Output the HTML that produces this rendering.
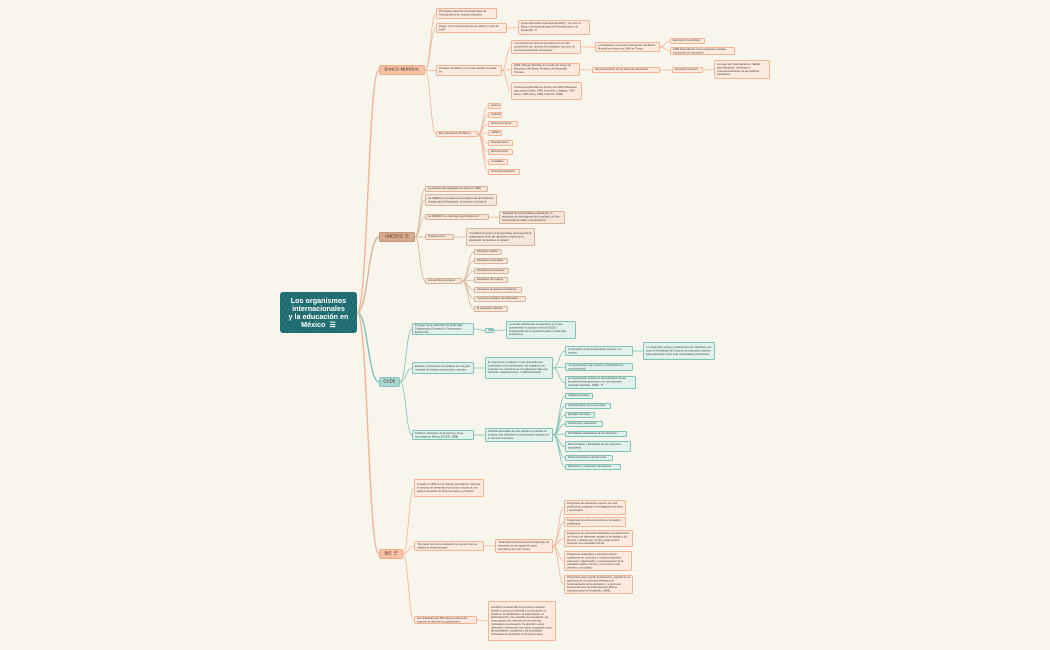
<!DOCTYPE html>
<html><head><meta charset="utf-8">
<style>
html,body{margin:0;padding:0}
body{width:1050px;height:650px;background:#f8f6ec;position:relative;overflow:hidden;font-family:"Liberation Sans",sans-serif}
svg{position:absolute;left:0;top:0}
.n{position:absolute;box-sizing:border-box;color:#4a3a30;padding:0 2px;border-radius:1.5px;overflow:hidden;display:flex;align-items:center}
.n>span{display:block;font-size:6.4px;line-height:8px;transform:scale(.42);transform-origin:left top;flex:none}
.m>span{font-size:10px;line-height:12px;text-align:center;white-space:nowrap}
.s{background:#fbeadd;border:0.8px solid #f5b396}
.t{background:#f4e6d8;border:0.8px solid #d8b49a}
.g{background:#e2f1ec;border:0.8px solid #7cc3b9;color:#2f4a46}
.m{justify-content:center;border-radius:2px;color:#3a2a20}
#root{background:#1d6b70 repeating-linear-gradient(120deg,rgba(255,255,255,.08) 0 1px,transparent 1px 4px);color:#fff;font-size:7.2px;line-height:8px;font-weight:bold;text-align:center;justify-content:center;border-radius:3px;border:none}
</style></head><body>
<svg id="sv" width="1050" height="650"></svg>

<div id="root" style="position:absolute;display:flex;align-items:center;left:280px;top:292px;width:77px;height:41px">Los organismos<br>internacionales<br>y la educación en<br>México &nbsp;☰</div>

<div class="n m" id="bm" style="left:379px;top:65px;width:46px;height:10px;background:#f9c2a6;border:0.8px solid #f3a888">BANCO MUNDIAL</div>
<div class="n m" id="un" style="left:379px;top:232px;width:36px;height:10px;background:#d7ab8f;border:0.8px solid #c5957a">UNESCO &nbsp;☰</div>
<div class="n m" id="oc" style="left:379px;top:377px;width:21px;height:10px;background:#a9d8d0;border:0.8px solid #86c5bb">OCDE</div>
<div class="n m" id="bi" style="left:379px;top:549px;width:24px;height:10px;background:#f9c2a6;border:0.8px solid #f3a888">BID &nbsp;☰</div>

<div class="n s" id="b1" style="left:436px;top:8px;width:61px;height:11px">Principales agencias internacionales de financiamiento en materia educativa.</div>
<div class="n s" id="b2" style="left:436px;top:23px;width:71px;height:10px">Origen en la conferencia que se realizó en julio de 1944</div>
<div class="n s" id="b21" style="left:518px;top:20px;width:72px;height:15px">Fondo Monetario Internacional (FMI) y, por otro, el Banco Internacional para la Reconstrucción y el Desarrollo &nbsp;☰</div>
<div class="n s" id="b3" style="left:436px;top:65px;width:66px;height:11px">El interés del Banco por temas sociales se basa en:</div>
<div class="n s" id="b31" style="left:511px;top:40px;width:70px;height:14px">“La inversión en favor de los pobres no es sólo conveniente por razones humanitarias, sino que es una buena inversión económica”</div>
<div class="n s" id="b311" style="left:595px;top:42px;width:65px;height:10px">La educación, la primera intervención del Banco Mundial se efectuó en 1964 en Túnez.</div>
<div class="n s" id="b3111" style="left:670px;top:38px;width:35px;height:6px">Educación Secundaria</div>
<div class="n s" id="b3112" style="left:670px;top:47px;width:65px;height:8px">1968 dependiendo a los programas sociales, incluyendo los educativos</div>
<div class="n s" id="b32" style="left:511px;top:63px;width:69px;height:13px">1996 el Banco Mundial, por medio del Grupo de Educación del Depto Temático de Desarrollo Humano</div>
<div class="n s" id="b321" style="left:592px;top:67px;width:68px;height:6px">Reestructuración de los sistemas educativos</div>
<div class="n s" id="b3211" style="left:672px;top:67px;width:31px;height:6px">Educación superior</div>
<div class="n s" id="b32111" style="left:714px;top:60px;width:56px;height:19px">Los ejes son financiamiento, calidad, administración, resultados e internacionalización de las políticas educativas.</div>
<div class="n s" id="b33" style="left:511px;top:82px;width:71px;height:18px">Conferencia Mundial de Jomtien de 1990; Educación para todos (Dakar, 1996; Hamshel y Lhaspar, 1997; Essex, 1996; Brey, 1996; Patrinos, 1998)</div>
<div class="n s" id="b4" style="left:436px;top:131px;width:42px;height:6px">Ejes articulados del Banco</div>
<div class="n s" id="e1" style="left:488px;top:103px;width:13px;height:6px">acceso</div>
<div class="n s" id="e2" style="left:488px;top:112px;width:14px;height:6px">equidad</div>
<div class="n s" id="e3" style="left:488px;top:121px;width:30px;height:6px">eficiencia interna</div>
<div class="n s" id="e4" style="left:488px;top:130px;width:14px;height:6px">calidad</div>
<div class="n s" id="e5" style="left:488px;top:140px;width:25px;height:6px">financiamiento</div>
<div class="n s" id="e6" style="left:488px;top:149px;width:25px;height:6px">administración</div>
<div class="n s" id="e7" style="left:488px;top:159px;width:20px;height:6px">resultados</div>
<div class="n s" id="e8" style="left:488px;top:169px;width:32px;height:6px">internacionalización</div>

<div class="n t" id="u1" style="left:425px;top:186px;width:63px;height:6px">La creación del organismo se ubica en 1945</div>
<div class="n t" id="u2" style="left:425px;top:194px;width:72px;height:12px">La UNESCO se funda como el órgano de las Naciones Unidas para la Educación, la Ciencia y la Cultura</div>
<div class="n t" id="u3" style="left:425px;top:214px;width:64px;height:6px">La UNESCO se crea bajo los principios de:</div>
<div class="n t" id="u31" style="left:499px;top:211px;width:66px;height:13px">“Igualdad de oportunidades educativas; no restricción en la búsqueda de la verdad y el libre intercambio de ideas y conocimiento”</div>
<div class="n t" id="u4" style="left:425px;top:234px;width:29px;height:6px">Impulsa como:</div>
<div class="n t" id="u41" style="left:466px;top:228px;width:69px;height:18px">“Contribuir a la paz y a la seguridad, promoviendo la colaboración entre las naciones a través de la educación, la ciencia o la cultura”</div>
<div class="n t" id="u5" style="left:425px;top:278px;width:37px;height:6px">Los ámbitos de interés</div>
<div class="n t" id="a1" style="left:474px;top:249px;width:28px;height:6px">educación básica</div>
<div class="n t" id="a2" style="left:474px;top:258px;width:34px;height:6px">educación secundaria</div>
<div class="n t" id="a3" style="left:474px;top:268px;width:35px;height:6px">educación permanente</div>
<div class="n t" id="a4" style="left:474px;top:277px;width:34px;height:6px">educación de mujeres</div>
<div class="n t" id="a5" style="left:474px;top:287px;width:48px;height:6px">educación de grupos minoritarios</div>
<div class="n t" id="a6" style="left:474px;top:296px;width:52px;height:6px">nuevas tecnologías de información</div>
<div class="n t" id="a7" style="left:474px;top:306px;width:34px;height:6px">la educación superior</div>

<div class="n g" id="o1" style="left:412px;top:323px;width:62px;height:12px">El origen de la institución fue la llamada Organización Europea de Cooperación Económica</div>
<div class="n g" id="o11" style="left:485px;top:328px;width:9px;height:5px">1961</div>
<div class="n g" id="o111" style="left:506px;top:321px;width:70px;height:18px">se decide transformar el organismo en lo que actualmente se conoce como la OCDE ( Organización de Cooperación para el desarrollo económico)</div>
<div class="n g" id="o2" style="left:412px;top:362px;width:62px;height:12px">Estudio y formulación de políticas en una gran variedad de esferas económicas y sociales.</div>
<div class="n g" id="o21" style="left:485px;top:357px;width:68px;height:22px">El mecanismo mediante el cual desarrolla sus actividades es la combinación del trabajo de los expertos con miembros de los gobiernos bajo una dirección, aparentemente, "multidisciplinaria"</div>
<div class="n g" id="o211" style="left:565px;top:346px;width:68px;height:10px">La transición entre la educación superior y el empleo.</div>
<div class="n g" id="o2111" style="left:643px;top:342px;width:72px;height:18px">La integración social y productiva de los individuos, así como la flexibilidad del conjunto de educación superior para adecuarse mejor a las necesidades productivas.</div>
<div class="n g" id="o212" style="left:565px;top:363px;width:68px;height:8px">“el conocimiento real, efectivo y cuantitativo de conocimientos”.</div>
<div class="n g" id="o213" style="left:565px;top:376px;width:71px;height:13px">La organización propone la diversificación de las fuentes de financiamiento en el nivel terciario (Ocampo Sánchez, 1998). &nbsp;☰</div>
<div class="n g" id="o3" style="left:412px;top:430px;width:62px;height:10px">Políticas nacionales de la ciencia y de la tecnología en México (OCDE, 1998)</div>
<div class="n g" id="o31" style="left:485px;top:428px;width:68px;height:14px">Políticas derivadas de este estudio con tendes un impacto muy relevante en la educación superior en el contexto mexicano</div>
<div class="n g" id="p1" style="left:565px;top:393px;width:28px;height:6px">Calidad educativa</div>
<div class="n g" id="p2" style="left:565px;top:403px;width:46px;height:6px">Financiamiento de la educación</div>
<div class="n g" id="p3" style="left:565px;top:412px;width:30px;height:6px">Equidad educativa</div>
<div class="n g" id="p4" style="left:565px;top:421px;width:38px;height:6px">Pertinencia y educación</div>
<div class="n g" id="p5" style="left:565px;top:431px;width:62px;height:6px">Prioridades cuantitativas de la educación</div>
<div class="n g" id="p6" style="left:565px;top:441px;width:66px;height:11px">Diferenciación y flexibilidad de las corrientes educativas</div>
<div class="n g" id="p7" style="left:565px;top:455px;width:48px;height:6px">Perfeccionamiento del personal</div>
<div class="n g" id="p8" style="left:565px;top:464px;width:56px;height:6px">Estructura y conducción del sistema</div>

<div class="n s" id="i1" style="left:414px;top:479px;width:70px;height:18px">Creado en 1959 con el objetivo principal de "acelerar el proceso de desarrollo económico y social de sus países miembros de América Latina y el Caribe"</div>
<div class="n s" id="i2" style="left:414px;top:541px;width:70px;height:10px">“Sin saber tuvo de la educación se crecido pero su calidad se ha deteriorado”</div>
<div class="n s" id="i21" style="left:495px;top:539px;width:58px;height:14px">“Financiará preferentemente programas de desarrollo de los siguientes tipos educativos (en este orden)”</div>
<div class="n s" id="q1" style="left:564px;top:500px;width:62px;height:15px">Programas de educación superior de nivel profesional, posgrado e investigación científica y tecnológica.</div>
<div class="n s" id="q2" style="left:564px;top:517px;width:62px;height:10px">Programas de educación técnica y formación profesional.</div>
<div class="n s" id="q3" style="left:564px;top:530px;width:69px;height:17px">Programas de educación destinados a proporcionar un mínimo de destrezas sociales y de trabajo a los jóvenes y adultos que no han tenido acceso oportuno a la educación formal.</div>
<div class="n s" id="q4" style="left:564px;top:551px;width:68px;height:20px">Programas destinados a introducir formas sustantivas en currículum, métodos docentes, estructura, organización y funcionamiento de la educación básica, formal, y no formal a nivel primario y secundario.</div>
<div class="n s" id="q5" style="left:564px;top:575px;width:69px;height:19px">Programas para mejorar la eficiencia y equidad en la aplicación de los recursos dedicados al funcionamiento de la educación y a promover fuentes alternas de financiamiento (Banco Interamericano de Desarrollo, 1995).</div>
<div class="n s" id="i3" style="left:414px;top:616px;width:63px;height:8px">Las finalidades del BID hacia la educación superior se resumen a continuación:</div>
<div class="n s" id="i31" style="left:488px;top:601px;width:68px;height:40px">Contribuir al desarrollo de recursos humanos; facilitar el proceso universal a la educación; la fortalecer la planificación, la organización, la administración y los métodos de enseñanza; así como apoyar las reformas de los sistemas nacionales de educación. Su posición será a destrabar el desarrollo uno mayor integración entre las actividades educativas y las actividades nacionales de desarrollo en América Latina.</div>

<script>
var S="#f5b396",T="#d8b49a",G="#7cc3b9",K=0.42;
var E=[
["root","bm",S],["root","un",T],["root","oc",G],["root","bi",S],
["bm","b1",S],["bm","b2",S],["bm","b3",S],["bm","b4",S],["b2","b21",S],
["b3","b31",S],["b3","b32",S],["b3","b33",S],["b31","b311",S],["b311","b3111",S],["b311","b3112",S],
["b32","b321",S],["b321","b3211",S],["b3211","b32111",S],
["b4","e1",S],["b4","e2",S],["b4","e3",S],["b4","e4",S],["b4","e5",S],["b4","e6",S],["b4","e7",S],["b4","e8",S],
["un","u1",T],["un","u2",T],["un","u3",T],["un","u4",T],["un","u5",T],["u3","u31",T],["u4","u41",T],
["u5","a1",T],["u5","a2",T],["u5","a3",T],["u5","a4",T],["u5","a5",T],["u5","a6",T],["u5","a7",T],
["oc","o1",G],["oc","o2",G],["oc","o3",G],["o1","o11",G],["o11","o111",G],["o2","o21",G],
["o21","o211",G],["o21","o212",G],["o21","o213",G],["o211","o2111",G],["o3","o31",G],
["o31","p1",G],["o31","p2",G],["o31","p3",G],["o31","p4",G],["o31","p5",G],["o31","p6",G],["o31","p7",G],["o31","p8",G],
["bi","i1",S],["bi","i2",S],["bi","i3",S],["i2","i21",S],["i21","q1",S],["i21","q2",S],["i21","q3",S],["i21","q4",S],["i21","q5",S],["i3","i31",S]
];
document.querySelectorAll(".n").forEach(function(n){
  var iw=n.clientWidth-4;
  var sp=document.createElement("span");
  sp.innerHTML=n.innerHTML; n.innerHTML=""; n.appendChild(sp);
  sp.style.width=(iw/K)+"px";
  var h2=sp.offsetHeight;
  sp.style.marginRight=(iw-iw/K)+"px";
  sp.style.marginBottom=(h2*K-h2)+"px";
});
var sv=document.getElementById("sv"),h="";
function b(id){var e=document.getElementById(id);return{x:e.offsetLeft,y:e.offsetTop,w:e.offsetWidth,h:e.offsetHeight};}
E.forEach(function(p){var a=b(p[0]),c=b(p[1]);var x1=a.x+a.w,y1=a.y+a.h/2,x2=c.x,y2=c.y+c.h/2;var d=(x2-x1)*0.5;
h+='<path d="M'+x1+' '+y1+' C'+(x1+d)+' '+y1+' '+(x2-d)+' '+y2+' '+x2+' '+y2+'" fill="none" stroke="'+p[2]+'" stroke-width="'+(p[0]=="root"?1.4:0.8)+'"/>';});
sv.innerHTML=h;
</script>
</body></html>
